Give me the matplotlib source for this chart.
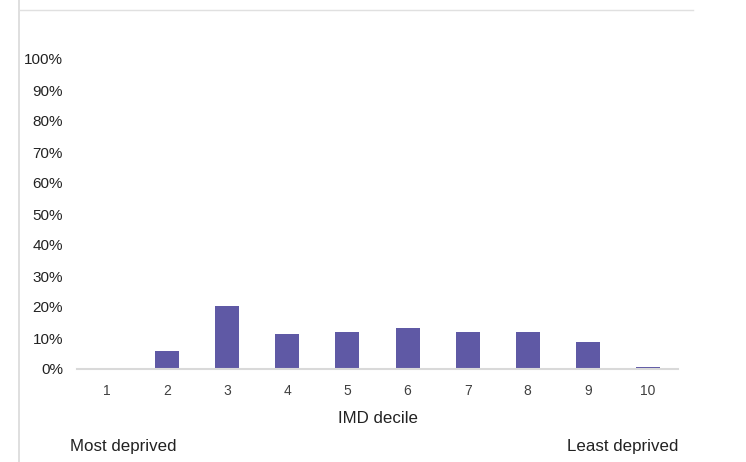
import matplotlib
matplotlib.use("Agg")
import matplotlib.pyplot as plt
from matplotlib.lines import Line2D

plt.rcParams['font.family'] = ['Liberation Sans', 'DejaVu Sans']

deciles = ['1', '2', '3', '4', '5', '6', '7', '8', '9', '10']
shares = [0.0, 0.058, 0.204, 0.113, 0.120, 0.131, 0.118, 0.118, 0.086, 0.008]
y_ticks = [i / 10 for i in range(11)]
y_labels = [f'{i * 10}%' for i in range(11)]

W, H = 746, 462
fig = plt.figure(figsize=(W / 100, H / 100), dpi=100)
ax = fig.add_axes([77 / W, (H - 369) / H, 601 / W, 310 / H])

x = range(len(deciles))
ax.bar(x, shares, width=0.4, color='#5f59a5')

ax.set_xlim(-0.5, len(deciles) - 0.5)
ax.set_ylim(0, 1)
ax.set_yticks(y_ticks)
ax.set_yticklabels(y_labels, fontsize=11, color='#222222')
ax.set_xticks(list(x))
ax.set_xticklabels(deciles, fontsize=10, color='#404040')
ax.tick_params(axis='both', length=0)
ax.tick_params(axis='y', pad=10)
ax.tick_params(axis='x', pad=11)

for side in ['top', 'right', 'left']:
    ax.spines[side].set_visible(False)
ax.spines['bottom'].set_color('#d9d9d9')
ax.spines['bottom'].set_linewidth(1.5)

ax.set_xlabel('IMD decile', fontsize=12.2, color='#222222', labelpad=9)

fig.text(70 / W, 1 - 447 / H, 'Most deprived', fontsize=12.2, color='#222222',
         ha='left', va='center')
fig.text(678 / W, 1 - 447 / H, 'Least deprived', fontsize=12.2, color='#222222',
         ha='right', va='center')

# outer frame lines
fig.add_artist(Line2D([19 / W, 19 / W], [0, 1], color='#d9d9d9', lw=1.2))
fig.add_artist(Line2D([19 / W, 693 / W], [1 - 10 / H, 1 - 10 / H],
                      color='#e0e0e0', lw=1.0))

fig.savefig('out.png', dpi=100)
